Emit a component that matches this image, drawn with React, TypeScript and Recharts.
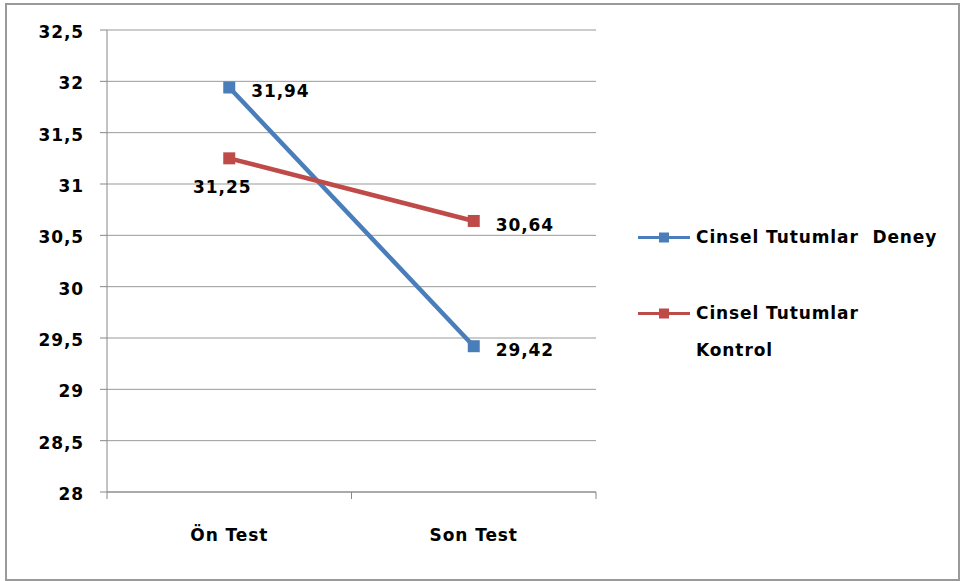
import React from "react";
import {
  LineChart,
  Line,
  XAxis,
  YAxis,
  CartesianGrid,
  Legend,
  LabelList,
} from "recharts";

const categories = ["Ön Test", "Son Test"];
const deneyValues = [31.94, 29.42];
const kontrolValues = [31.25, 30.64];
const yTicks = [28, 28.5, 29, 29.5, 30, 30.5, 31, 31.5, 32, 32.5];
const seriesNames = ["Cinsel Tutumlar  Deney", "Cinsel Tutumlar Kontrol"];
const legendLines = [["Cinsel Tutumlar  Deney"], ["Cinsel Tutumlar", "Kontrol"]];

const BLUE = "#4a7ebb";
const RED = "#be4b48";
const FONT = "'DejaVu Sans', Verdana, sans-serif";
const TEXT = { fontFamily: FONT, fontWeight: "bold", fontSize: 17, letterSpacing: 0.9, fill: "#000" };

const data = categories.map((name, i) => ({
  name,
  deney: deneyValues[i],
  kontrol: kontrolValues[i],
}));

const fmt = (v: number) => String(v).replace(".", ",");

function SquareDot(props: any) {
  const { cx, cy, fill } = props;
  if (cx == null || cy == null) return null;
  return <rect x={cx - 6} y={cy - 6} width={12} height={12} fill={fill} />;
}

function XTick(props: any) {
  const { x, y, payload, index, visibleTicksCount } = props;
  const half = payload?.offset ?? 0;
  return (
    <g>
      <line x1={x - half} x2={x - half} y1={y} y2={y + 7} stroke="#888" />
      {index === visibleTicksCount - 1 && (
        <line x1={x + half} x2={x + half} y1={y} y2={y + 7} stroke="#888" />
      )}
      <text x={x} y={y + 49} textAnchor="middle" {...TEXT}>
        {payload.value}
      </text>
    </g>
  );
}

function YTick(props: any) {
  const { x, y, payload } = props;
  return (
    <text x={x} y={y + 8} textAnchor="end" {...TEXT}>
      {fmt(payload.value)}
    </text>
  );
}

// value labels: to the right of the point, except the first control point which sits underneath
function makeLabel(below: number[]) {
  return (props: any) => {
    const { x, y, value, index } = props;
    const under = below.includes(index);
    return (
      <text
        x={under ? x - 7 : x + 22}
        y={under ? y + 35 : y + 10}
        textAnchor={under ? "middle" : "start"}
        {...TEXT}
      >
        {fmt(value)}
      </text>
    );
  };
}

function LegendBox(props: any) {
  const items = props.payload || [];
  return (
    <div style={{ fontFamily: FONT, fontWeight: "bold", fontSize: 17, letterSpacing: 0.9, color: "#000" }}>
      {items.map((item: any, i: number) => (
        <div
          key={item.value}
          style={{ display: "flex", alignItems: "flex-start", marginBottom: i === 0 ? 39 : 0 }}
        >
          <svg width={56} height={37} style={{ flex: "none" }}>
            <line x1={2} x2={54} y1={18.5} y2={18.5} stroke={item.color} strokeWidth={3} />
            <rect x={23} y={13.5} width={10} height={10} fill={item.color} />
          </svg>
          <div style={{ lineHeight: "37px", whiteSpace: "pre", marginLeft: 4 }}>
            {legendLines[i].map((t) => (
              <div key={t}>{t}</div>
            ))}
          </div>
        </div>
      ))}
    </div>
  );
}

export default function App() {
  return (
    <div style={{ position: "absolute", left: 0, top: 0, width: 962, height: 581, background: "#fff" }}>
      <div
        style={{
          position: "absolute",
          left: 5,
          top: 3,
          width: 951,
          height: 574,
          border: "2px solid #9a9a9a",
        }}
      />
      <div style={{ position: "absolute", left: 0, top: 0 }}>
        <LineChart
          width={962}
          height={581}
          data={data}
          margin={{ top: 30, right: 366, bottom: 39, left: 0 }}
        >
          <CartesianGrid vertical={false} stroke="#999" />
          <XAxis
            dataKey="name"
            scale="band"
            height={50}
            stroke="#888"
            tickLine={false}
            tickSize={0}
            tickMargin={0}
            tick={<XTick />}
            interval={0}
          />
          <YAxis
            width={107}
            domain={[28, 32.5]}
            ticks={yTicks}
            interval={0}
            stroke="#888"
            tickSize={7}
            tickMargin={16}
            tick={<YTick />}
          />
          <Legend
            layout="horizontal"
            align="center"
            verticalAlign="middle"
            content={<LegendBox />}
            wrapperStyle={{ left: 636, top: 219, width: 320 }}
          />
          <Line
            dataKey="deney"
            name={seriesNames[0]}
            stroke={BLUE}
            fill={BLUE}
            strokeWidth={4.5}
            dot={<SquareDot />}
            isAnimationActive={false}
          >
            <LabelList dataKey="deney" content={makeLabel([])} />
          </Line>
          <Line
            dataKey="kontrol"
            name={seriesNames[1]}
            stroke={RED}
            fill={RED}
            strokeWidth={4.5}
            dot={<SquareDot />}
            isAnimationActive={false}
          >
            <LabelList dataKey="kontrol" content={makeLabel([0])} />
          </Line>
        </LineChart>
      </div>
    </div>
  );
}
